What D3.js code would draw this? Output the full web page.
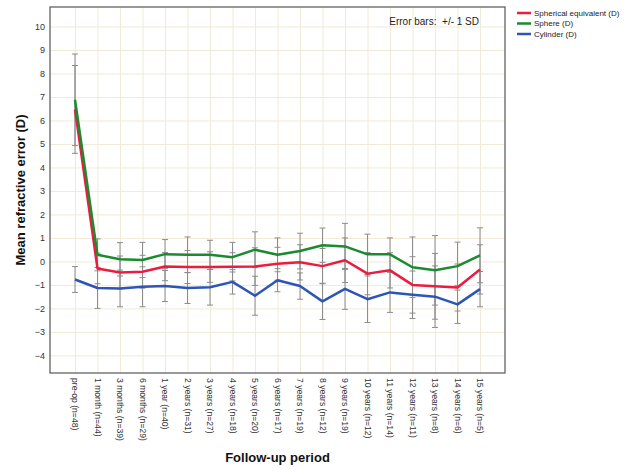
<!DOCTYPE html>
<html>
<head>
<meta charset="utf-8">
<script src="https://cdn.jsdelivr.net/npm/d3@7"></script>
<style>
  html, body { margin: 0; padding: 0; background: #fff; }
  svg { display: block; font-family: Arial, "Liberation Sans", sans-serif; }
</style>
</head>
<body>
<svg id="chart" width="627" height="469"></svg>
<script>
const categories = ["pre-op (n=48)","1 month (n=44)","3 months (n=39)","6 months (n=29)","1 year (n=40)","2 years (n=31)","3 years (n=27)","4 years (n=18)","5 years (n=20)","6 years (n=17)","7 years (n=19)","8 years (n=12)","9 years (n=19)","10 years (n=12)","11 years (n=14)","12 years (n=11)","13 years (n=8)","14 years (n=6)","15 years (n=5)"];

const seMean   = [6.47, -0.30, -0.47, -0.44, -0.22, -0.24, -0.24, -0.23, -0.22, -0.10, -0.04, -0.20, 0.05, -0.52, -0.38, -1.00, -1.06, -1.11, -0.34];
const seSD     = [1.87, 0.65, 0.70, 0.70, 0.60, 0.70, 0.65, 0.60, 0.80, 0.70, 0.75, 0.75, 0.95, 0.90, 0.75, 1.20, 1.40, 1.00, 1.05];
const sphMean  = [6.88, 0.28, 0.09, 0.06, 0.31, 0.28, 0.28, 0.18, 0.50, 0.28, 0.44, 0.69, 0.64, 0.30, 0.30, -0.25, -0.38, -0.20, 0.26];
const sphSD    = [1.95, 0.68, 0.71, 0.75, 0.62, 0.76, 0.62, 0.63, 0.76, 0.72, 0.76, 0.73, 0.98, 0.86, 0.70, 1.29, 1.48, 1.02, 1.17];
const cylMean  = [-0.77, -1.13, -1.15, -1.08, -1.05, -1.13, -1.10, -0.87, -1.46, -0.80, -1.05, -1.70, -1.17, -1.61, -1.32, -1.42, -1.50, -1.83, -1.18];
const cylSD    = [0.55, 0.87, 0.78, 0.85, 0.66, 0.66, 0.76, 0.52, 0.83, 0.49, 0.56, 0.77, 0.87, 0.99, 0.85, 1.01, 1.31, 0.81, 0.75];

const seriesNames  = ["Spherical equivalent (D)", "Sphere (D)", "Cylinder (D)"];
const seriesColors = ["#ec1c3e", "#1b8a31", "#2d55b5"];
const yTicks = [-4, -3, -2, -1, 0, 1, 2, 3, 4, 5, 6, 7, 8, 9, 10];
const yDomain = [-4.75, 10.83];
const yTitle = "Mean refractive error (D)";
const xTitle = "Follow-up period";
const noteText = "Error bars:  +/- 1 SD";

const series = [
  {name: seriesNames[0], color: seriesColors[0], mean: seMean,  sd: seSD},
  {name: seriesNames[1], color: seriesColors[1], mean: sphMean, sd: sphSD},
  {name: seriesNames[2], color: seriesColors[2], mean: cylMean, sd: cylSD}
];

const svg = d3.select("#chart");
const plot = {left: 50, right: 505, top: 7, bottom: 373};

const x = d3.scalePoint().domain(categories).range([75, 480]);
const y = d3.scaleLinear().domain(yDomain).range([plot.bottom, plot.top]);

// grid
const grid = svg.append("g");
grid.append("g")
  .attr("transform", `translate(${plot.left},0)`)
  .call(d3.axisLeft(y).tickValues(yTicks).tickSize(-(plot.right - plot.left)).tickFormat(""))
  .call(g => g.select(".domain").remove())
  .call(g => g.selectAll("line").attr("stroke", "#f1ead6").attr("stroke-width", 1));
grid.append("g")
  .attr("transform", `translate(0,${plot.bottom})`)
  .call(d3.axisBottom(x).tickSize(-(plot.bottom - plot.top)).tickFormat(""))
  .call(g => g.select(".domain").remove())
  .call(g => g.selectAll("line").attr("stroke", "#f1ead6").attr("stroke-width", 1));

// y axis labels
svg.append("g")
  .attr("transform", `translate(${plot.left},0)`)
  .call(d3.axisLeft(y).tickValues(yTicks).tickSize(0).tickPadding(5))
  .call(g => g.select(".domain").remove())
  .call(g => g.selectAll("text").attr("font-size", "9px").attr("fill", "#333").attr("font-family", "Arial, 'Liberation Sans', sans-serif"));

// x axis labels
svg.append("g")
  .attr("transform", `translate(0,${plot.bottom})`)
  .call(d3.axisBottom(x).tickSize(0))
  .call(g => g.select(".domain").remove())
  .call(g => g.selectAll("text")
    .attr("font-size", "8.6px").attr("fill", "#333")
    .attr("font-family", "Arial, 'Liberation Sans', sans-serif")
    .attr("transform", "rotate(90)")
    .attr("x", 5).attr("y", 0).attr("dy", "0.35em")
    .attr("text-anchor", "start"));

// error bars
const capW = 3;
series.forEach(s => {
  const g = svg.append("g");
  categories.forEach((c, i) => {
    const cx = x(c);
    const hi = y(s.mean[i] + s.sd[i]);
    const lo = y(s.mean[i] - s.sd[i]);
    g.append("line").attr("x1", cx).attr("x2", cx).attr("y1", hi).attr("y2", lo)
      .attr("stroke", "#8c8c8c").attr("stroke-width", 1);
    [hi, lo].forEach(v => g.append("line").attr("x1", cx - capW).attr("x2", cx + capW)
      .attr("y1", v).attr("y2", v).attr("stroke", "#8c8c8c").attr("stroke-width", 1));
  });
});

// lines
const line = d3.line().x((d, i) => x(categories[i])).y(d => y(d));
[series[2], series[0], series[1]].forEach(s => {
  svg.append("path").datum(s.mean)
    .attr("fill", "none").attr("stroke", s.color).attr("stroke-width", 2.5)
    .attr("stroke-linejoin", "round")
    .attr("d", line);
});

// frame
svg.append("rect")
  .attr("x", plot.left).attr("y", plot.top)
  .attr("width", plot.right - plot.left).attr("height", plot.bottom - plot.top)
  .attr("fill", "none").attr("stroke", "#555").attr("stroke-width", 1.2);

// note
svg.append("text").attr("x", 479).attr("y", 25).attr("text-anchor", "end")
  .attr("font-size", "10px").attr("fill", "#222").style("white-space", "pre")
  .attr("xml:space", "preserve").text(noteText);

// legend
const leg = svg.append("g");
series.forEach((s, i) => {
  const ly = 13 + i * 10.5;
  leg.append("line").attr("x1", 517).attr("x2", 531).attr("y1", ly).attr("y2", ly)
    .attr("stroke", s.color).attr("stroke-width", 2.5);
  leg.append("text").attr("x", 534).attr("y", ly).attr("dy", "0.35em")
    .attr("font-size", "8px").attr("fill", "#222").text(s.name);
});

// axis titles
svg.append("text")
  .attr("transform", `translate(25,${(plot.top + plot.bottom) / 2}) rotate(-90)`)
  .attr("text-anchor", "middle").attr("font-size", "13px").attr("font-weight", "bold")
  .attr("fill", "#111").text(yTitle);
svg.append("text")
  .attr("x", (plot.left + plot.right) / 2).attr("y", 462)
  .attr("text-anchor", "middle").attr("font-size", "13px").attr("font-weight", "bold")
  .attr("fill", "#111").text(xTitle);
</script>
</body>
</html>
